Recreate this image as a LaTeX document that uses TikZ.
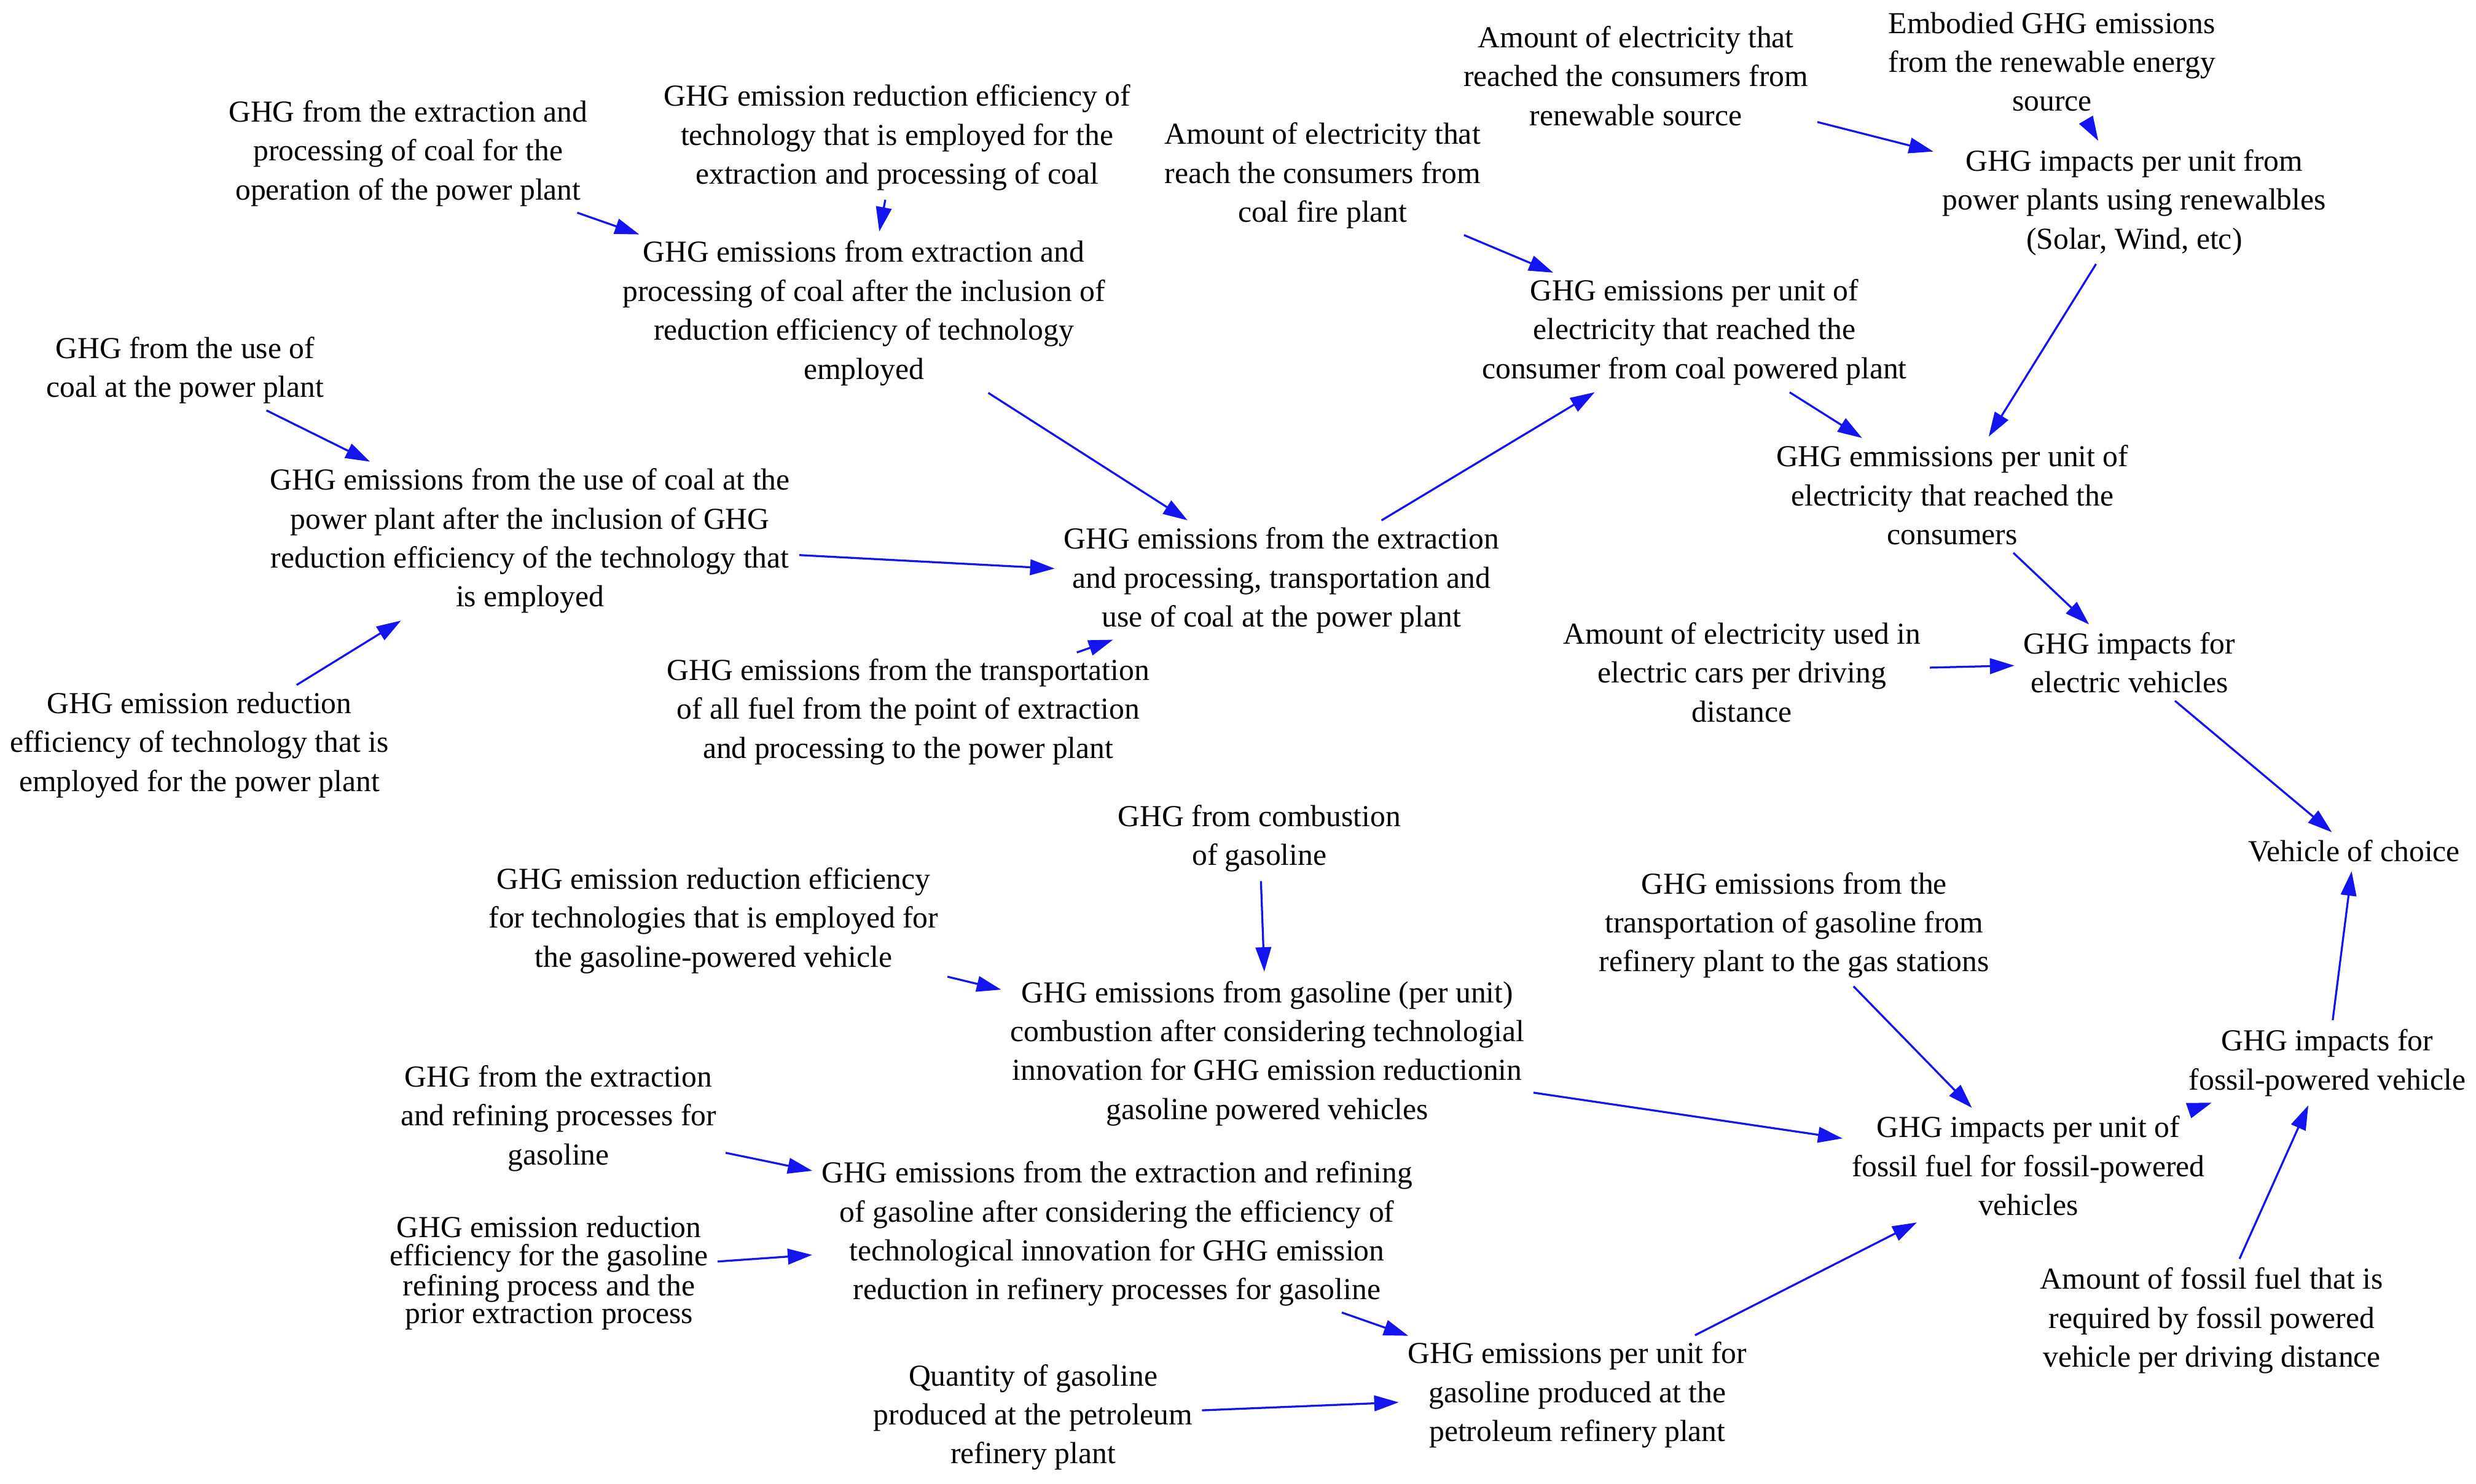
\documentclass[tikz,border=0pt]{standalone}
\usepackage{fontspec}
\setmainfont{Liberation Serif}
\usetikzlibrary{arrows.meta}
\definecolor{ab}{RGB}{20,20,240}
\begin{document}
\begin{tikzpicture}[x=0.025cm,y=-0.025cm,
  t/.style={align=center,font=\fontsize{13.7}{17.5}\selectfont,inner sep=2pt},
  s/.style={align=center,font=\fontsize{13.7}{12.5}\selectfont,inner sep=2pt},
  a/.style={draw=ab,line width=0.9pt,-{Triangle[length=11pt,width=7pt]},shorten >=2pt,shorten <=2pt}]
\useasboundingbox (0,0) rectangle (1565,938);
\node[t] (A1) at (258,97) {GHG from the extraction and\\processing of coal for the\\operation of the power plant};
\node[t] (A2) at (567,87) {GHG emission reduction efficiency of\\technology that is employed for the\\extraction and processing of coal};
\node[t] (A3) at (546,198) {GHG emissions from extraction and\\processing of coal after the inclusion of\\reduction efficiency of technology\\employed};
\node[t] (A4) at (836,111) {Amount of electricity that\\reach the consumers from\\coal fire plant};
\node[t] (A5) at (1034,48) {Amount of electricity that\\reached the consumers from\\renewable source};
\node[t] (A6) at (1297,39) {Embodied GHG emissions\\from the renewable energy\\source};
\node[t] (A7) at (1349,128) {GHG impacts per unit from\\power plants using renewalbles\\(Solar, Wind, etc)};
\node[t] (A8) at (1071,210) {GHG emissions per unit of\\electricity that reached the\\consumer from coal powered plant};
\node[t] (A9) at (1234,313) {GHG emmissions per unit of\\electricity that reached the\\consumers};
\node[t] (B1) at (117,234) {GHG from the use of\\coal at the power plant};
\node[t] (B2) at (335,342) {GHG emissions from the use of coal at the\\power plant after the inclusion of GHG\\reduction efficiency of the technology that\\is employed};
\node[t] (B3) at (810,367) {GHG emissions from the extraction\\and processing, transportation and\\use of coal at the power plant};
\node[t] (B4) at (126,471) {GHG emission reduction\\efficiency of technology that is\\employed for the power plant};
\node[t] (B5) at (574,450) {GHG emissions from the transportation\\of all fuel from the point of extraction\\and processing to the power plant};
\node[t] (B6) at (1101,425) {Amount of electricity used in\\electric cars per driving\\distance};
\node[t] (B7) at (1346,419) {GHG impacts for\\electric vehicles};
\node[t] (C1) at (1488,538) {Vehicle of choice};
\node[t] (C2) at (796,530) {GHG from combustion\\of gasoline};
\node[t] (C3) at (451,582) {GHG emission reduction efficiency\\for technologies that is employed for\\the gasoline-powered vehicle};
\node[t] (C4) at (1134,585) {GHG emissions from the\\transportation of gasoline from\\refinery plant to the gas stations};
\node[t] (C5) at (801,666) {GHG emissions from gasoline (per unit)\\combustion after considering technologial\\innovation for GHG emission reductionin\\gasoline powered vehicles};
\node[t] (C6) at (1471,672) {GHG impacts for\\fossil-powered vehicle};
\node[t] (C7) at (353,707) {GHG from the extraction\\and refining processes for\\gasoline};
\node[t] (C8) at (1282,737) {GHG impacts per unit of\\fossil fuel for fossil-powered\\vehicles};
\node[t] (C9) at (706,780) {GHG emissions from the extraction and refining\\of gasoline after considering the efficiency of\\technological innovation for GHG emission\\reduction in refinery processes for gasoline};
\node[s] (C10) at (347,805) {GHG emission reduction\\efficiency for the gasoline\\refining process and the\\prior extraction process};
\node[t] (C11) at (1398,835) {Amount of fossil fuel that is\\required by fossil powered\\vehicle per driving distance};
\node[t] (C12) at (997,882) {GHG emissions per unit for\\gasoline produced at the\\petroleum refinery plant};
\node[t] (C13) at (653,896) {Quantity of gasoline\\produced at the petroleum\\refinery plant};
\foreach \u/\v in {A1/A3,A2/A3,A3/B3,B1/B2,B4/B2,B2/B3,B5/B3,B3/A8,A4/A8,A8/A9,A5/A7,A6/A7,A7/A9,A9/B7,B6/B7,B7/C1,C6/C1,C2/C5,C3/C5,C5/C8,C4/C8,C7/C9,C10/C9,C9/C12,C13/C12,C12/C8,C8/C6,C11/C6}
  \draw[a] (\u) -- (\v);
\end{tikzpicture}
\end{document}
